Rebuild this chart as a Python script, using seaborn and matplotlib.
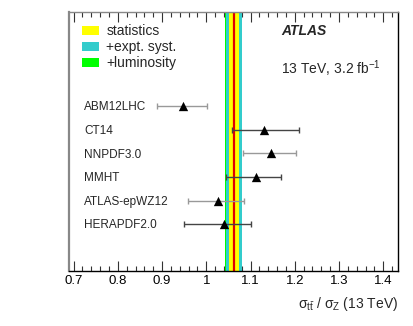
import numpy as np
import pandas as pd
import matplotlib
matplotlib.use("Agg")
import matplotlib.pyplot as plt
import matplotlib.transforms as mtransforms
from matplotlib.patches import Patch
from matplotlib.ticker import MultipleLocator
import seaborn as sns

# ---- data ----
pdf_sets = ["ABM12LHC", "CT14", "NNPDF3.0", "MMHT", "ATLAS-epWZ12", "HERAPDF2.0"]
pred_central = [0.948, 1.131, 1.146, 1.112, 1.027, 1.040]
pred_low = [0.888, 1.057, 1.082, 1.045, 0.958, 0.950]
pred_high = [1.002, 1.209, 1.203, 1.168, 1.085, 1.102]

meas_central = 1.062
meas_stat = 0.011
meas_stat_syst = 0.0185
meas_total = 0.0188

band_labels = ["statistics", "+expt. syst.", "+luminosity"]
x_ticks = [0.7, 0.8, 0.9, 1.0, 1.1, 1.2, 1.3, 1.4]
x_tick_labels = ["0.7", "0.8", "0.9", "1", "1.1", "1.2", "1.3", "1.4"]

# ---- style ----
sns.set_style("ticks")
plt.rcParams["font.family"] = ["Liberation Sans", "DejaVu Sans"]
plt.rcParams["mathtext.fontset"] = "custom"
plt.rcParams["mathtext.rm"] = "Liberation Sans"
plt.rcParams["mathtext.it"] = "Liberation Sans:italic"
plt.rcParams["mathtext.bf"] = "Liberation Sans:bold"

fig = plt.figure(figsize=(4.14, 3.26), dpi=100)
ax = fig.add_axes([0.166, 0.170, 0.795, 0.792])

df = pd.DataFrame({
    "pdf": pdf_sets,
    "central": pred_central,
    "low": pred_low,
    "high": pred_high,
})
df["row"] = np.arange(len(df))

# measurement bands
ax.axvspan(meas_central - meas_total, meas_central + meas_total, color="#00ff00", lw=0, zorder=1)
ax.axvspan(meas_central - meas_stat_syst, meas_central + meas_stat_syst, color="#33cccc", lw=0, zorder=1.1)
ax.axvspan(meas_central - meas_stat, meas_central + meas_stat, color="#ffff00", lw=0, zorder=1.2)
ax.axvline(meas_central, color="#e00000", lw=1.6, zorder=1.3)

# error bars
bar_colors = ["#999999", "#444444", "#999999", "#444444", "#999999", "#444444"]
for i, r in df.iterrows():
    ax.errorbar(r["central"], r["row"],
                xerr=[[r["central"] - r["low"]], [r["high"] - r["central"]]],
                fmt="none", ecolor=bar_colors[i], elinewidth=1.0, capsize=2.5,
                capthick=1.0, zorder=3)

sns.scatterplot(data=df, x="central", y="row", marker="^", color="black",
                s=45, edgecolor="black", linewidth=0, zorder=4, ax=ax, legend=False)

# row labels (baseline shifted so capitals are centred on the row)
trans = mtransforms.blended_transform_factory(ax.transAxes, ax.transData)
trans = trans + mtransforms.ScaledTranslation(0, -3.0 / 72, fig.dpi_scale_trans)
for i, name in enumerate(pdf_sets):
    ax.text(0.047, i, name, transform=trans, ha="left", va="baseline", fontsize=8.5)

ax.set_xlim(0.689, 1.433)
ax.set_ylim(6.96, -3.97)
ax.set_yticks([])
ax.set_xticks(x_ticks)
ax.set_xticklabels(x_tick_labels, fontsize=9.5)
ax.xaxis.set_minor_locator(MultipleLocator(0.02))
ax.tick_params(axis="x", which="major", direction="in", length=7, width=0.8,
               top=True, bottom=True, colors="#333333", labelcolor="black", pad=3)
ax.tick_params(axis="x", which="minor", direction="in", length=3.5, width=0.8,
               top=True, bottom=True, colors="#333333")
ax.set_ylabel("")
ax.set_xlabel(r"σ$_{\mathrm{t\bar{t}}}$ / σ$_{\mathrm{Z}}$ (13 TeV)", fontsize=10)
ax.xaxis.set_label_coords(1.0, -0.095)
ax.xaxis.label.set_horizontalalignment("right")

for side, sp in ax.spines.items():
    sp.set_visible(True)
    sp.set_linewidth(1.0)
    sp.set_color("black")
ax.spines["left"].set_color("#888888")
ax.spines["left"].set_linewidth(1.6)
ax.spines["top"].set_color("#888888")

handles = [Patch(facecolor="#ffff00", edgecolor="none"),
           Patch(facecolor="#33cccc", edgecolor="none"),
           Patch(facecolor="#00ff00", edgecolor="none")]
ax.legend(handles, band_labels, loc="upper left", bbox_to_anchor=(0.040, 0.955),
          frameon=False, fontsize=10, handlelength=1.25, handleheight=0.6,
          handletextpad=0.5, labelspacing=0.15, borderpad=0, borderaxespad=0)

ax.text(0.645, 0.928, "ATLAS", transform=ax.transAxes, fontsize=10,
        fontweight="bold", fontstyle="italic", ha="left", va="center")
ax.text(0.645, 0.781, r"13 TeV, 3.2 fb$^{\mathrm{-1}}$", transform=ax.transAxes,
        fontsize=10, ha="left", va="center")

fig.savefig("out.png", dpi=100)
